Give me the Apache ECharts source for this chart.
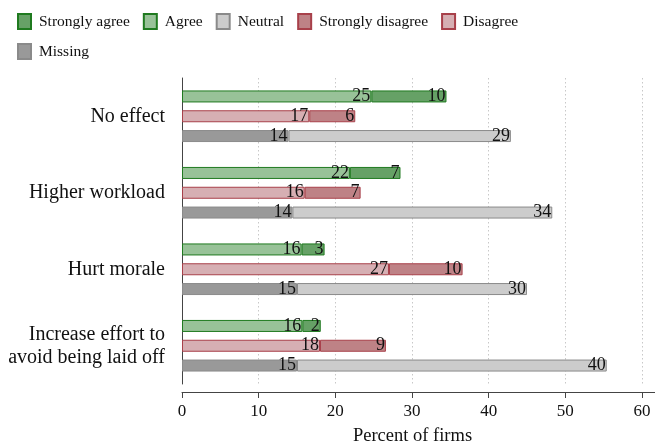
<!DOCTYPE html>
<html>
<head>
<meta charset="utf-8">
<script src="https://cdn.jsdelivr.net/npm/echarts@6/dist/echarts.min.js"></script>
<style>html,body{margin:0;padding:0;background:#fff}#c{width:655px;height:446px}</style>
</head>
<body>
<div id="c"></div>
<script>
const categories = ['No effect', 'Higher workload', 'Hurt morale', 'Increase effort to\navoid being laid off'];
const agree = [24.7, 21.9, 15.6, 15.7];
const stronglyAgree = [9.8, 6.6, 3.0, 2.4];
const disagree = [16.6, 16.0, 27.0, 18.0];
const stronglyDisagree = [6.0, 7.3, 9.6, 8.6];
const missing = [13.9, 14.4, 15.0, 15.0];
const neutral = [29.0, 33.9, 30.0, 40.4];
const xTicks = [0, 10, 20, 30, 40, 50, 60];

const FONT = "'Liberation Serif', 'DejaVu Serif', serif";

function mk(name, data, stack, fill, border) {
  return {
    name, type: 'bar', data, stack,
    barWidth: 12, barGap: '65%',
    itemStyle: { color: fill, borderColor: border, borderWidth: 1 },
    label: {
      show: true, position: 'insideRight', distance: 1,
      formatter: p => Math.round(p.value),
      color: '#111', fontFamily: FONT, fontSize: 18
    },
    emphasis: { disabled: true },
    animation: false
  };
}

const chart = echarts.init(document.getElementById('c'), null, { renderer: 'canvas' });
chart.setOption({
  backgroundColor: '#fff',
  animation: false,
  legend: {
    left: 17, top: 13, width: 520, padding: 0,
    itemWidth: 13, itemHeight: 15, itemGap: 13,
    icon: 'rect',
    data: ['Strongly agree', 'Agree', 'Neutral', 'Strongly disagree', 'Disagree', 'Missing'],
    textStyle: { fontFamily: FONT, fontSize: 15.5, color: '#111', lineHeight: 12, padding: [0, 0, 0, 3] },
    selectedMode: false
  },
  grid: { left: 182, right: 0, top: 78, bottom: 62, containLabel: false, outerBoundsMode: 'none' },
  xAxis: {
    type: 'value', min: 0, max: 61.7, interval: 10,
    offset: 8,
    name: 'Percent of firms', nameLocation: 'middle', nameGap: 35,
    nameTextStyle: { fontFamily: FONT, fontSize: 18.5, color: '#111', padding: [0, 12, 0, 0] },
    axisLine: { show: true, lineStyle: { color: '#444', width: 1 } },
    axisTick: { show: true, length: 6, lineStyle: { color: '#444' } },
    axisLabel: { fontFamily: FONT, fontSize: 17, color: '#111', margin: 11, showMaxLabel: false,
      formatter: v => (xTicks.indexOf(v) >= 0 ? String(v) : '') },
    splitLine: { show: true, lineStyle: { color: '#c8c8c8', width: 1, type: [1.5, 2.5] } }
  },
  yAxis: {
    type: 'category', data: categories, inverse: true,
    axisLine: { show: true, lineStyle: { color: '#444', width: 1 } },
    axisTick: { show: false },
    axisLabel: { fontFamily: FONT, fontSize: 20, color: '#111', margin: 17, lineHeight: 23, align: 'right' },
    splitLine: { show: false }
  },
  series: [
    mk('Agree', agree, 'a', 'rgba(152,194,152,1)', '#1f7a1f'),
    mk('Strongly agree', stronglyAgree, 'a', 'rgba(102,161,102,1)', '#1f7a1f'),
    mk('Disagree', disagree, 'd', 'rgba(214,175,179,1)', '#a8404a'),
    mk('Strongly disagree', stronglyDisagree, 'd', 'rgba(190,130,134,1)', '#a8404a'),
    mk('Missing', missing, 'm', 'rgba(153,153,153,1)', '#8a8a8a'),
    mk('Neutral', neutral, 'm', 'rgba(204,204,204,1)', '#8a8a8a')
  ]
});
</script>
</body>
</html>
